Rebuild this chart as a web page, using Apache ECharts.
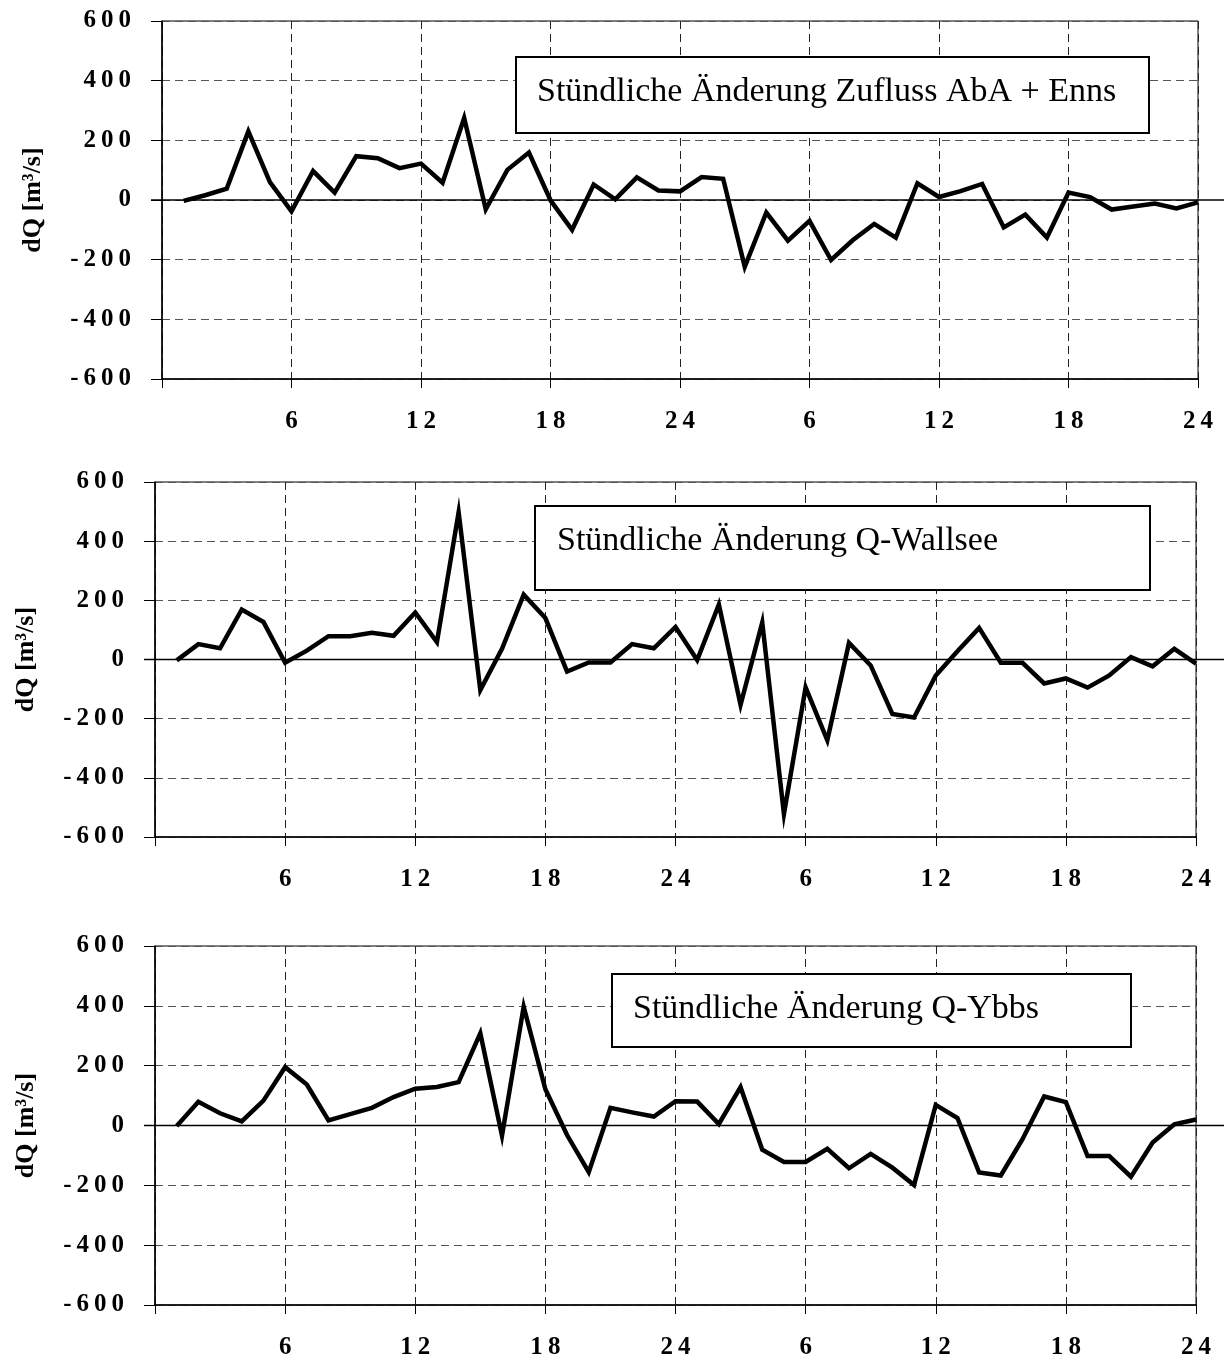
<!DOCTYPE html>
<html>
<head>
<meta charset="utf-8">
<title>Stündliche Änderung</title>
<script src="https://cdn.jsdelivr.net/npm/echarts@6/dist/echarts.min.js"></script>
<style>
    html, body { margin: 0; padding: 0; background: #fff; }
    #main { width: 1224px; height: 1360px; }
</style>
</head>
<body>
<div id="main"></div>
<script>
// Stundenwerte 1..48 (zwei Tage)
var abaEnns = [-3, 16, 38, 230, 60, -38, 97, 25, 147, 140, 107, 122, 58, 275, -31, 101, 159, -1, -100, 52, 2, 76, 32, 29,
    77, 71, -224, -42, -136, -70, -201, -135, -80, -126, 56, 10, 30, 54, -92, -49, -126, 25, 10, -32, -22, -12, -28, -8];
var wallsee = [-3, 52, 38, 169, 127, -11, 30, 79, 79, 90, 80, 159, 59, 498, -103, 36, 219, 140, -41, -10, -10, 52, 38, 110,
    -2, 186, -153, 125, -522, -94, -273, 56, -20, -184, -196, -54, 28, 107, -11, -11, -81, -64, -95, -54, 8, -23, 36, -14];
var ybbs = [-2, 79, 41, 14, 83, 195, 137, 17, 38, 59, 95, 123, 129, 145, 308, -34, 397, 121, -32, -156, 59, 44, 30, 81,
    80, 5, 128, -81, -122, -122, -78, -143, -95, -141, -199, 69, 25, -157, -167, -46, 97, 78, -102, -102, -171, -57, 4, 20];
var titles = ['Stündliche Änderung Zufluss AbA + Enns', 'Stündliche Änderung Q-Wallsee', 'Stündliche Änderung Q-Ybbs'];
var xTickLabels = ['', '6', '12', '18', '24', '6', '12', '18', '24'];
var yName = 'dQ [m³/s]';

var seriesData = [abaEnns, wallsee, ybbs];

// Layout
var grids = [
    {left: 162, top: 21, width: 1036, height: 358},
    {left: 155, top: 482, width: 1041, height: 355},
    {left: 155, top: 946, width: 1041, height: 359}
];
var boxes = [
    {x: 516, y: 57, w: 633, h: 76, tx: 537, ty: 92},
    {x: 535, y: 506, w: 615, h: 84, tx: 557, ty: 541},
    {x: 612, y: 974, w: 519, h: 73, tx: 633, ty: 1009}
];

var serif = '"Liberation Serif", "Times New Roman", serif';
var spaced = function(v) {
    return String(v).split('').join('\u2009');
};

var option = {
    backgroundColor: '#fff',
    animation: false,
    grid: [],
    xAxis: [],
    yAxis: [],
    series: []
};

seriesData.forEach(function(values, i) {
    option.grid.push({
        left: grids[i].left, top: grids[i].top, width: grids[i].width, height: grids[i].height,
        show: true, borderColor: '#000', borderWidth: 1
    });
    option.xAxis.push({
        type: 'value', gridIndex: i, min: 0, max: 48, interval: 6,
        axisLine: {show: true, onZero: false, lineStyle: {color: '#000', width: 1.5}},
        axisTick: {show: true, length: 9, lineStyle: {color: '#000', width: 1}},
        axisLabel: {
            margin: 30, color: '#000', fontFamily: serif, fontWeight: 'bold', fontSize: 25,
            formatter: function(v) { return spaced(xTickLabels[Math.round(v / 6)]); }
        },
        splitLine: {show: true, lineStyle: {color: '#222', width: 1, type: [8, 5]}}
    });
    option.yAxis.push({
        type: 'value', gridIndex: i, min: -600, max: 600, interval: 200,
        name: yName, nameLocation: 'middle', nameGap: 116,
        nameTextStyle: {color: '#000', fontFamily: serif, fontWeight: 'bold', fontSize: 26},
        axisLine: {show: true, onZero: false, lineStyle: {color: '#000', width: 1.5}},
        axisTick: {show: true, length: 11, lineStyle: {color: '#000', width: 1}},
        axisLabel: {
            margin: 31, color: '#000', fontFamily: serif, fontWeight: 'bold', fontSize: 25,
            formatter: spaced
        },
        splitLine: {show: true, lineStyle: {color: '#555', width: 1, type: [8, 5]}}
    });
    option.series.push({
        type: 'line', xAxisIndex: i, yAxisIndex: i,
        data: values.map(function(v, k) { return [k + 1, v]; }),
        symbol: 'none', z: 3,
        lineStyle: {color: '#000', width: 4.5, join: 'miter'}
    });
});

var chart = echarts.init(document.getElementById('main'));
chart.setOption(option);

// Nulllinie (geht über den Rahmen hinaus) und Textfelder
var graphics = [];
grids.forEach(function(g, i) {
    var p = chart.convertToPixel({gridIndex: i}, [0, 0]);
    graphics.push({
        type: 'line', id: 'zero' + i, z: 2,
        shape: {x1: g.left - 11, y1: p[1], x2: 1224, y2: p[1]},
        style: {stroke: '#000', lineWidth: 1.5}
    });
    var b = boxes[i];
    graphics.push({
        type: 'rect', id: 'box' + i, z: 10,
        shape: {x: b.x, y: b.y, width: b.w, height: b.h},
        style: {fill: '#fff', stroke: '#000', lineWidth: 2}
    });
    graphics.push({
        type: 'text', id: 'title' + i, z: 11,
        x: b.tx, y: b.ty,
        style: {
            text: titles[i], fill: '#000', font: '34px ' + serif,
            textAlign: 'left', textVerticalAlign: 'middle'
        }
    });
});
chart.setOption({graphic: graphics});
</script>
</body>
</html>
